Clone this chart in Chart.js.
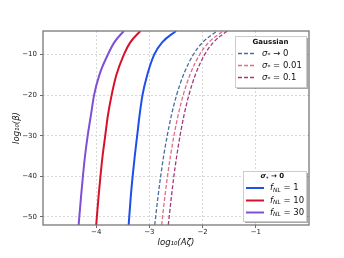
<!DOCTYPE html>
<html>
<head>
<meta charset="utf-8">
<script src="https://cdn.jsdelivr.net/npm/chart.js@4.4.0/dist/chart.umd.min.js"></script>
<style>
html, body { margin: 0; padding: 0; background: #fff; }
#wrap { width: 344px; height: 258px; }
</style>
</head>
<body>
<div id="wrap"><canvas id="chart" width="344" height="258"></canvas></div>
<script>
const betaLevels = [-52, -45, -40, -35, -30, -25, -20, -15, -10, -7, -4.2];

// log10(A_zeta) for the solid (sigma* -> 0) curves
const fnl1 = [-3.39, -3.35, -3.315, -3.275, -3.23, -3.185, -3.13, -3.04, -2.91, -2.76, -2.50];
const fnl10 = [-4.00, -3.956, -3.92, -3.88, -3.83, -3.78, -3.71, -3.62, -3.48, -3.36, -3.17];
const fnl30 = [-4.33, -4.285, -4.25, -4.21, -4.16, -4.10, -4.04, -3.94, -3.78, -3.66, -3.48];

// log10(A_zeta) for the dashed gaussian curves
const gaussSig0 = [-2.90, -2.838, -2.788, -2.732, -2.665, -2.587, -2.489, -2.36, -2.174, -2.00, -1.727];
const gaussSig001 = [-2.77, -2.709, -2.66, -2.604, -2.539, -2.461, -2.365, -2.238, -2.055, -1.883, -1.614];
const gaussSig01 = [-2.645, -2.586, -2.54, -2.486, -2.424, -2.35, -2.258, -2.137, -1.961, -1.797, -1.54];

const xTickValues = [-4, -3, -2, -1];
const yTickValues = [-50, -40, -30, -20, -10];

// legend text: [base, subscript, rest]
const gaussLabels = [['σ', '*', ' → 0'], ['σ', '*', ' = 0.01'], ['σ', '*', ' = 0.1']];
const fnlLabels = [['f', 'NL', ' = 1'], ['f', 'NL', ' = 10'], ['f', 'NL', ' = 30']];

const FONT = '"DejaVu Sans", sans-serif';

function pts(xs) {
    return xs.map((x, i) => ({ x: x, y: betaLevels[i] }));
}
function minus(v) {
    return String(v).replace('-', '\u2212');
}

const gaussColors = ['#4a6f9c', '#e4698a', '#a8387a'];
const fnlColors = ['#1f4fea', '#d81028', '#7f4fd6'];

const datasets = [];
[gaussSig0, gaussSig001, gaussSig01].forEach((d, i) => {
    datasets.push({
        label: gaussLabels[i].join(''),
        data: pts(d),
        borderColor: gaussColors[i],
        borderWidth: 1.3,
        borderDash: [4, 2],
        pointRadius: 0,
        cubicInterpolationMode: 'monotone'
    });
});
[fnl1, fnl10, fnl30].forEach((d, i) => {
    datasets.push({
        label: fnlLabels[i].join(''),
        data: pts(d),
        borderColor: fnlColors[i],
        borderWidth: 2,
        pointRadius: 0,
        cubicInterpolationMode: 'monotone'
    });
});

function drawMath(ctx, x, y, parts, size, bold) {
    const w = bold ? 'bold ' : '';
    ctx.textBaseline = 'middle';
    ctx.textAlign = 'left';
    ctx.font = 'italic ' + w + size + 'px ' + FONT;
    ctx.fillText(parts[0], x, y);
    x += ctx.measureText(parts[0]).width;
    ctx.font = 'italic ' + w + (size * 0.7) + 'px ' + FONT;
    ctx.fillText(parts[1], x, y + size * 0.25);
    x += ctx.measureText(parts[1]).width;
    ctx.font = w + size + 'px ' + FONT;
    ctx.fillText(parts[2], x, y);
}

function drawLegendBox(ctx, box, title, labels, colors, dashed, lineX, textX) {
    ctx.save();
    ctx.fillStyle = 'rgba(0,0,0,0.35)';
    ctx.fillRect(box.x + 2, box.y + 2, box.w, box.h);
    ctx.fillStyle = '#fff';
    ctx.fillRect(box.x, box.y, box.w, box.h);
    ctx.strokeStyle = '#cccccc';
    ctx.lineWidth = 1;
    ctx.strokeRect(box.x + 0.5, box.y + 0.5, box.w, box.h);
    ctx.fillStyle = '#111';
    if (typeof title === 'string') {
        ctx.font = 'bold 7px ' + FONT;
        ctx.textAlign = 'center';
        ctx.textBaseline = 'middle';
        ctx.fillText(title, box.x + box.w / 2, box.titleY);
    } else {
        drawMath(ctx, box.x + box.w / 2 - 14, box.titleY, title, 7, true);
    }
    labels.forEach((lab, i) => {
        const y = box.rows[i];
        ctx.strokeStyle = colors[i];
        ctx.lineWidth = dashed ? 1.3 : 2;
        ctx.setLineDash(dashed ? [4, 2] : []);
        ctx.beginPath();
        ctx.moveTo(lineX[0], y);
        ctx.lineTo(lineX[1], y);
        ctx.stroke();
        ctx.setLineDash([]);
        ctx.fillStyle = '#111';
        drawMath(ctx, textX, y, lab, 8.5, false);
    });
    ctx.restore();
}

const decor = {
    id: 'decor',
    afterDatasetsDraw(chart) {
        const ctx = chart.ctx;
        const a = chart.chartArea;
        ctx.save();
        ctx.strokeStyle = '#777';
        ctx.lineWidth = 1.3;
        ctx.strokeRect(a.left, a.top, a.right - a.left, a.bottom - a.top);
        ctx.restore();
        drawLegendBox(ctx, { x: 235, y: 36, w: 71, h: 51, titleY: 42, rows: [53.5, 65.5, 77.5] },
            'Gaussian', gaussLabels, gaussColors, true, [238, 255], 262);
        drawLegendBox(ctx, { x: 243, y: 171, w: 63, h: 50, titleY: 176.5, rows: [188, 200.5, 212.5] },
            ['σ', '*', ' → 0'], fnlLabels, fnlColors, false, [246, 264], 270);
    }
};

new Chart(document.getElementById('chart'), {
    type: 'line',
    data: { datasets: datasets },
    options: {
        responsive: false,
        animation: false,
        devicePixelRatio: 1,
        layout: { padding: { top: 31, right: 35, left: 12, bottom: 10 } },
        plugins: { legend: { display: false }, tooltip: { enabled: false } },
        scales: {
            x: {
                type: 'linear',
                min: -5,
                max: 0,
                afterBuildTicks: s => { s.ticks = xTickValues.map(v => ({ value: v })); },
                afterFit: s => { s.height = 23; },
                ticks: {
                    callback: v => minus(v),
                    font: { family: FONT, size: 7 },
                    color: '#222',
                    padding: 0,
                    maxRotation: 0
                },
                grid: { color: '#cfcfcf', lineWidth: 0.8, tickLength: 3, tickColor: '#444', tickBorderDash: [] },
                border: { display: false, dash: [2, 2] },
                title: {
                    display: true,
                    text: 'log₁₀(Aζ)',
                    font: { family: FONT, size: 8.5, style: 'italic' },
                    color: '#111',
                    padding: { top: 2, bottom: 0 }
                }
            },
            y: {
                type: 'linear',
                min: -52,
                max: -4.2,
                afterBuildTicks: s => { s.ticks = yTickValues.map(v => ({ value: v })); },
                afterFit: s => { s.width = 31; },
                ticks: {
                    callback: v => minus(v),
                    font: { family: FONT, size: 7 },
                    color: '#222',
                    padding: 3
                },
                grid: { color: '#cfcfcf', lineWidth: 0.8, tickLength: 3, tickColor: '#444', tickBorderDash: [] },
                border: { display: false, dash: [2, 2] },
                title: {
                    display: true,
                    text: 'log₁₀(β)',
                    font: { family: FONT, size: 8.5, style: 'italic' },
                    color: '#111',
                    padding: { top: 0, bottom: 0 }
                }
            }
        }
    },
    plugins: [decor]
});
</script>
</body>
</html>
